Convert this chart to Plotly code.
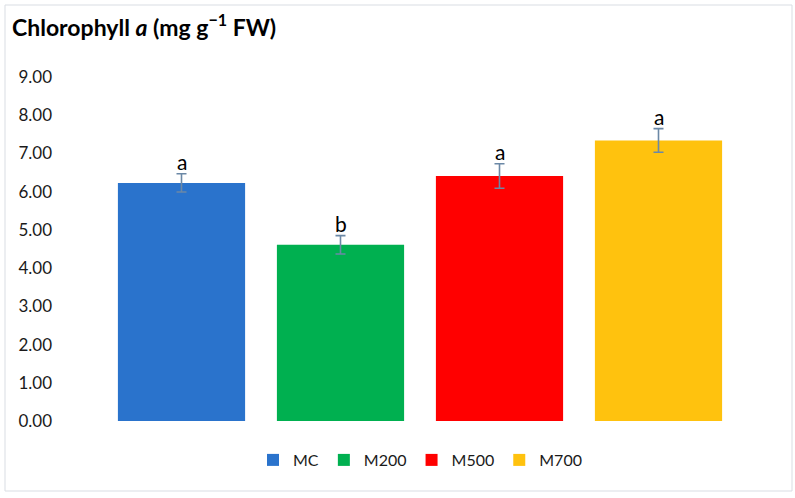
import plotly.graph_objects as go

categories = ["MC", "M200", "M500", "M700"]
values = [6.23, 4.61, 6.41, 7.34]
errors = [0.24, 0.24, 0.32, 0.31]
letters = ["a", "b", "a", "a"]
colors = ["#2a73cc", "#00b050", "#ff0000", "#ffc20e"]
tick_vals = [0, 1, 2, 3, 4, 5, 6, 7, 8, 9]
tick_text = [f"{v:.2f}" for v in tick_vals]

FONT = "Lato"

fig = go.Figure()
for c, v, e, col in zip(categories, values, errors, colors):
    fig.add_trace(go.Bar(
        x=[c], y=[v], name=c,
        marker=dict(color=col, line=dict(width=0)),
        error_y=dict(type="data", array=[e], visible=True,
                     color="#6b88a6", thickness=1.6, width=5),
    ))

for c, v, e, t in zip(categories, values, errors, letters):
    fig.add_annotation(x=c, y=v + e, text=t, showarrow=False,
                       yanchor="bottom", yshift=-2,
                       font=dict(family=FONT, size=21, color="#000000"))

W, H = 795, 498
L, R, T, B = 102, 57, 77, 77
pw, ph = W - L - R, H - T - B

fig.update_layout(
    width=W, height=H,
    margin=dict(l=L, r=R, t=T, b=B),
    paper_bgcolor="white", plot_bgcolor="white",
    barmode="overlay", bargap=0.2,
    title=dict(text="<b>Chlorophyll <i>a</i> (mg g<sup>−1</sup> FW)</b>",
               x=12 / W, xanchor="left", y=1 - 28 / H, yanchor="middle",
               font=dict(family=FONT, size=23, color="#000000")),
    xaxis=dict(showticklabels=False, showline=False, showgrid=False,
               ticks="", categoryorder="array", categoryarray=categories),
    yaxis=dict(range=[0, 9], tickvals=tick_vals, ticktext=tick_text,
               showgrid=False, showline=False, zeroline=False, ticks="",
               tickfont=dict(family=FONT, size=17, color="#1a1a1a"),
               ticklabelstandoff=49),
    legend=dict(orientation="h", x=0.5, xanchor="center",
                y=-(460 - (H - B)) / ph, yanchor="middle",
                font=dict(family=FONT, size=16, color="#1a1a1a"),
                itemwidth=30, traceorder="normal"),
    showlegend=True,
)

fig.add_shape(type="rect", xref="paper", yref="paper",
              x0=(5 - L) / pw, x1=(792 - L) / pw,
              y0=((H - B) - 491) / ph, y1=((H - B) - 5) / ph,
              line=dict(color="#d9dde3", width=1), layer="below")

fig.write_html("out.html", config={"displayModeBar": False},
               post_script="document.body.style.margin='0';")
